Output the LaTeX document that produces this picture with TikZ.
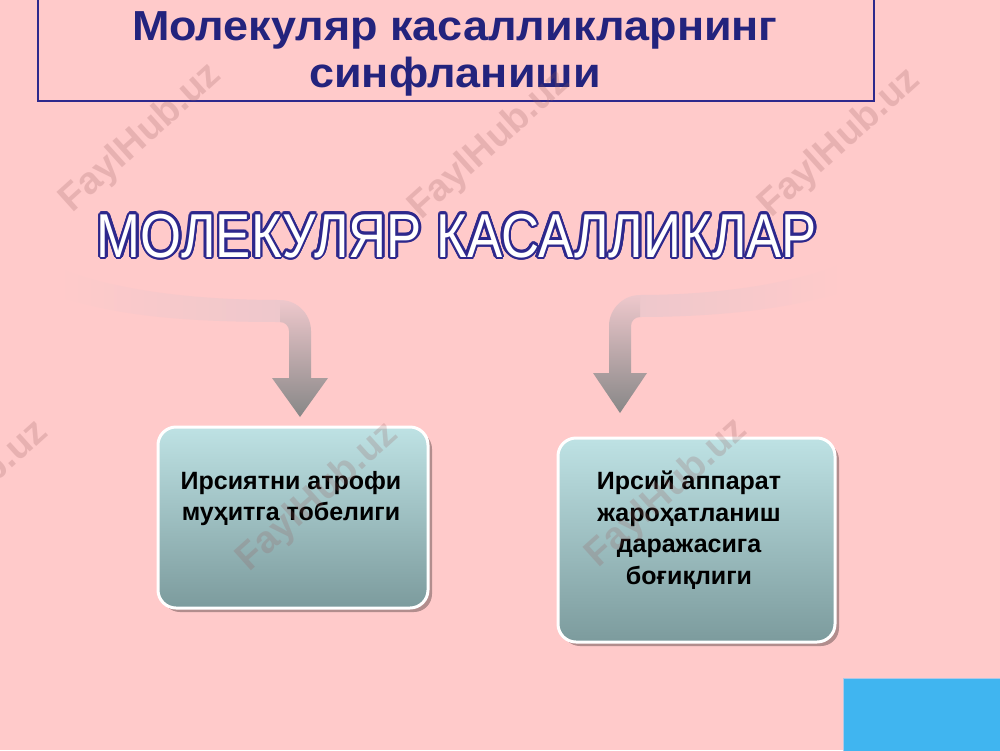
\documentclass[tikz,border=0pt]{standalone}
\usepackage{fontspec}
\setmainfont{Liberation Sans}
\usetikzlibrary{shadows}
\definecolor{bg}{RGB}{255,202,202}
\definecolor{navy}{RGB}{45,40,140}
\definecolor{titleblue}{RGB}{35,35,125}
\definecolor{wmtext}{RGB}{150,90,90}
\definecolor{boxtop}{RGB}{190,226,228}
\definecolor{boxbot}{RGB}{124,155,157}
\definecolor{arrtop}{RGB}{238,200,204}
\definecolor{arrbot}{RGB}{135,135,135}
\definecolor{skyblue}{RGB}{64,181,240}
\definecolor{skyedge}{RGB}{175,200,230}
\begin{document}
\begin{tikzpicture}[x=1pt,y=-1pt,
  wmark/.style={text=wmtext,text opacity=0.22,font=\bfseries\fontsize{38}{38}\selectfont,rotate=42,inner sep=0pt},
  titletext/.style={text=titleblue,font=\bfseries\fontsize{42}{42}\selectfont,anchor=base,inner sep=0pt},
  headtext/.style={font=\fontsize{62}{62}\selectfont,anchor=base,inner sep=0pt},
  infobox/.style={draw=white,line width=3pt,rounded corners=18pt,top color=boxtop,bottom color=boxbot,
    drop shadow={shadow xshift=4pt,shadow yshift=-4pt,fill=black,opacity=0.3}},
  infotext/.style={font=\bfseries\fontsize{25}{31.5}\selectfont,align=center,anchor=north,inner sep=0pt,text=black},
]
\useasboundingbox (0,0) rectangle (1000,750);
\fill[bg] (0,0) rectangle (1000,750);

% title box
\node[draw=navy,line width=2pt,fill=bg,minimum width=836pt,minimum height=108pt,anchor=north west,inner sep=0pt] (titlebox) at (37,-8) {};
\node[titletext] (title1) at (455,40) {\scalebox{1.07}[1]{Молекуляр касалликларнинг}};
\node[titletext] (title2) at (455,87) {\scalebox{1.07}[1]{синфланиши}};

% heading with outline
\foreach \a [count=\i] in {0,22.5,...,337.5}{
  \node[headtext,text=navy] (hs\i) at ({457+2.4*cos(\a)},{257+2.4*sin(\a)}) {\scalebox{0.85}[1]{МОЛЕКУЛЯР КАСАЛЛИКЛАР}};
}
\node[headtext,text=white] (heading) at (457,257) {\scalebox{0.85}[1]{МОЛЕКУЛЯР КАСАЛЛИКЛАР}};

% left arrow
\shade[left color=bg,right color=arrtop]
  (58,268) .. controls (120,292) and (200,300) .. (281,300) -- (281,322)
  .. controls (200,322) and (120,318) .. (58,296) -- cycle;
\shade[top color=arrtop,bottom color=arrbot]
  (280,300) .. controls (297,300) and (311,314) .. (311,331) -- (311,378) -- (328,378) -- (300,417)
  -- (272,378) -- (289,378) -- (289,331) .. controls (289,326) and (285,322) .. (280,322) -- cycle;

% right arrow
\shade[left color=arrtop,right color=bg]
  (639,295) .. controls (700,295) and (780,288) .. (842,264) -- (842,292)
  .. controls (780,312) and (700,317) .. (639,317) -- cycle;
\shade[top color=arrtop,bottom color=arrbot]
  (640,295) .. controls (623,295) and (609,309) .. (609,326) -- (609,373) -- (593,373) -- (620,413)
  -- (647,373) -- (631,373) -- (631,326) .. controls (631,321) and (635,317) .. (640,317) -- cycle;

% boxes
\node[infobox,minimum width=270pt,minimum height=181pt] (box1) at (293,517.5) {};
\node[infobox,minimum width=277pt,minimum height=204pt] (box2) at (696.5,540) {};
\node[infotext] (text1) at (291,471) {Ирсиятни атрофи\\муҳитга тобелиги};
\node[infotext] (text2) at (689,471) {Ирсий аппарат\\жароҳатланиш\\даражасига\\боғиқлиги};

% blue corner rectangle
\node[fill=skyblue,draw=skyedge,line width=1pt,anchor=north west,minimum width=160pt,minimum height=75pt,inner sep=0pt] (corner) at (843,678) {};

% watermarks
\node[wmark] (wm1) at (141,138) {FaylHub.uz};
\node[wmark] (wm2) at (490,145) {FaylHub.uz};
\node[wmark] (wm3) at (840,143) {FaylHub.uz};
\node[wmark] (wm4) at (-32,495) {FaylHub.uz};
\node[wmark] (wm5) at (318,497) {FaylHub.uz};
\node[wmark] (wm6) at (667,493) {FaylHub.uz};
\end{tikzpicture}
\end{document}
